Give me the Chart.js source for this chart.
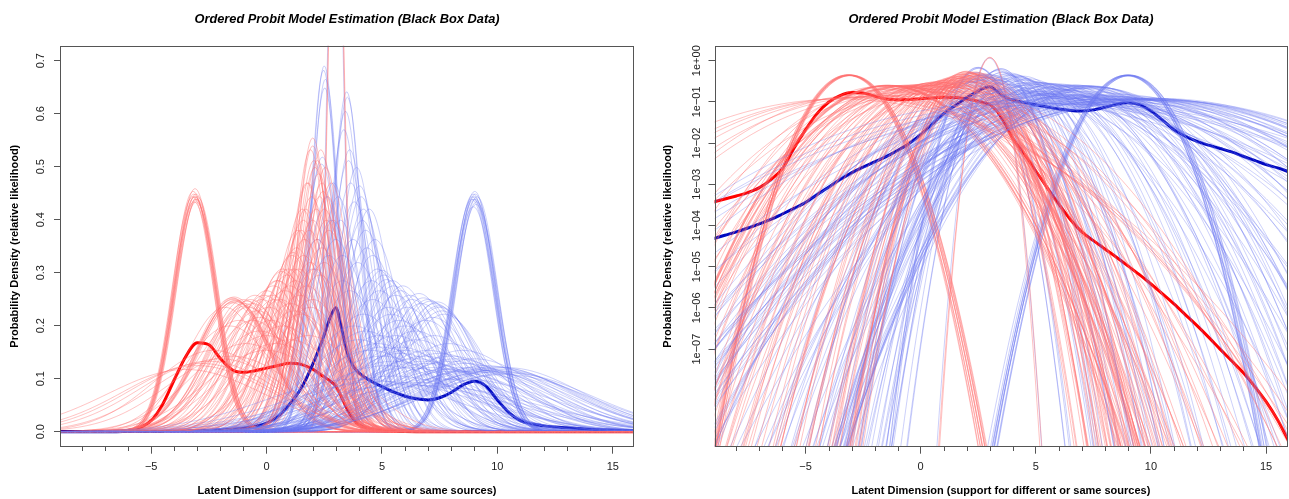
<!DOCTYPE html>
<html>
<head>
<meta charset="utf-8">
<script src="https://cdn.jsdelivr.net/npm/chart.js@4.4.0/dist/chart.umd.min.js"></script>
<style>
  html, body { margin: 0; padding: 0; background: #fff; }
  #wrap { position: relative; width: 1289px; height: 499px; overflow: hidden; }
  .panel { position: absolute; top: 0; height: 499px; }
</style>
</head>
<body>
<div id="wrap">
  <div class="panel" style="left:0;width:645px"><canvas id="linChart" width="645" height="499"></canvas></div>
  <div class="panel" style="left:645px;width:644px"><canvas id="logChart" width="644" height="499"></canvas></div>
</div>
<script>
// ---- text ----
const TITLE = 'Ordered Probit Model Estimation (Black Box Data)';
const X_LABEL = 'Latent Dimension (support for different or same sources)';
const Y_LABEL = 'Probability Density (relative likelihood)';

// ---- axes ----
const xRange = [-8.95, 15.92];
const xTickValues = [-5, 0, 5, 10, 15];
const linearRange = [-0.0283, 0.7283];
const linearTicks = [0, 0.1, 0.2, 0.3, 0.4, 0.5, 0.6, 0.7];
const logRange = [4.28e-10, 2.31];
const logTicks = [1e-7, 1e-6, 1e-5, 1e-4, 1e-3, 1e-2, 1e-1, 1];

// ---- thin lines: one normal density per draw (mean, sd) ----
const redMeans = [
  -3.5, -3.0, -2.8, -2.5, -2.0, -1.5,
  -0.8, -0.5, -0.2, 0.0, 0.3, 0.5, 0.7, 0.9, 0.2, -0.3, 0.6, 1.0, -0.6, 1.2, 0.4, 1.5, 0.0, 1.8,
  -1.8, -1.2, -0.7, -0.4, -0.1, 0.1, 0.25, 0.45, 0.65, 0.8, 0.95, 1.05, 1.15, 1.25, 1.35, 1.45,
  1.55, 1.65, 1.75, 1.85, 1.95, 2.05, 2.15, 2.25, 2.35, 2.45, 2.55, 2.65, 2.7, 2.4, 2.1, 1.75,
  1.2, 0.7, 0.0, -0.9, -2.3, 1.0, 2.0, 2.3, -1.6, 2.8, 2.0, 1.6, 2.9, -0.6, 0.35, 2.5, 1.9, -0.3,
  1.3, 1.5, 1.7, 1.8, 1.9, 2.0, 2.1, 2.2, 2.3, 1.6, 2.4, 2.0, 1.4, 2.5, 1.1, 2.2, 2.6, 1.9,
  3.0, 3.02,
  -1.45, -1.38, -1.50, -1.30, -1.42, -1.35, -1.48, -1.40, -0.95, -0.85, -0.90, -1.00,
  -3.12, -3.08, -3.15, -3.05, -3.10, -3.18, -3.02, -3.10, -3.14, -3.06, -3.20, -3.00
];
const redSds = [
  3.4, 3.2, 3.1, 3.0, 2.9, 2.8,
  1.7, 1.55, 1.6, 1.5, 1.45, 1.4, 1.3, 1.35, 1.9, 2.1, 1.6, 1.45, 1.9, 1.3, 2.4, 1.8, 2.6, 2.2,
  1.7, 1.9, 1.6, 1.75, 1.55, 1.7, 1.55, 1.4, 1.32, 1.5, 1.3, 1.65, 1.18, 1.4, 1.05, 1.55,
  0.95, 1.1, 0.85, 1.05, 0.9, 0.78, 0.95, 0.82, 0.75, 0.88, 0.8, 0.9, 1.05, 1.15, 1.3, 1.45,
  1.75, 2.0, 2.2, 2.4, 2.6, 2.3, 1.6, 1.35, 2.0, 0.85, 0.74, 1.0, 1.0, 1.65, 1.6, 1.25, 1.7, 1.85,
  1.15, 1.05, 0.95, 0.85, 0.75, 0.72, 0.8, 0.78, 0.9, 1.2, 0.85, 1.0, 1.3, 0.95, 1.2, 1.1, 1.0, 1.25,
  0.33, 0.34,
  1.60, 1.62, 1.58, 1.63, 1.59, 1.61, 1.64, 1.57, 1.65, 1.62, 1.68, 1.60,
  0.90, 0.91, 0.89, 0.92, 0.90, 0.88, 0.91, 0.87, 0.92, 0.89, 0.90, 0.90
];
const blueMeans = [
  8.5, 9.0, 9.3, 9.8, 10.2, 10.5, 9.5, 10.3, 8.0, 10.0, 6.0, 5.0, 4.0, 6.5, 5.5, 7.5,
  4.0, 4.5, 5.0, 5.5, 6.0, 6.5, 7.0, 7.5, 8.0, 4.8, 5.2, 5.8, 6.2, 6.8, 7.2, 3.8, 4.3, 8.5, 9.0, 5.6,
  3.0, 3.3, 2.8, 4.6, 5.4, 6.0, 6.5, 5.0, 7.0, 8.0,
  2.6, 2.7, 2.9, 3.1, 3.2, 3.35, 3.65, 3.75, 3.95, 4.15, 4.35, 4.45, 4.55, 4.7, 4.9, 5.1, 5.3,
  5.45, 5.6, 5.75, 5.9, 6.1, 6.3, 6.45, 6.7, 6.9, 7.1, 7.25, 7.45, 7.7, 7.9, 8.2, 8.6, 8.8, 9.1,
  9.6, 9.9, 10.1, 10.4, 7.8, 6.8, 5.8, 4.9, 4.2, 3.6, 3.3, 2.2, 2.0, 8.4, 7.0,
  6.6, 7.0, 7.3, 7.4, 7.5, 6.8, 7.6, 7.2,
  4.8, 5.0, 5.2, 4.6, 5.5, 5.8, 6.2,
  3.90, 4.03, 4.10, 4.20, 3.80, 4.30,
  3.47, 3.50, 3.42, 3.60, 3.55,
  2.50, 2.47, 2.55, 2.52, 2.42, 2.38,
  2.98,
  9.00, 9.05, 8.95, 9.10, 9.02, 8.92, 9.08, 8.98, 9.04, 8.96, 9.12, 8.90
];
const blueSds = [
  3.3, 3.4, 3.45, 3.45, 3.5, 3.6, 3.2, 3.7, 3.5, 3.3, 4.5, 4.2, 4.0, 4.3, 3.8, 4.0,
  2.3, 2.6, 2.8, 3.0, 2.6, 2.9, 3.1, 2.7, 3.0, 2.4, 3.2, 2.5, 3.3, 2.8, 3.3, 2.0, 2.1, 2.6, 2.9, 2.2,
  1.1, 1.2, 1.0, 1.6, 1.8, 2.0, 2.3, 2.5, 2.6, 2.8,
  0.9, 1.2, 0.85, 0.9, 1.0, 0.7, 0.85, 1.1, 1.25, 1.0, 1.15, 0.95, 1.4, 1.1, 1.5, 1.35, 1.7,
  1.4, 1.55, 1.9, 1.45, 1.7, 1.6, 2.1, 1.65, 1.9, 1.62, 2.2, 1.68, 1.8, 2.4, 2.9, 3.1, 3.5, 3.3,
  3.55, 3.25, 3.4, 3.3, 3.4, 3.0, 2.7, 2.2, 1.8, 1.5, 1.4, 1.1, 1.3, 4.0, 4.6,
  1.53, 1.60, 1.65, 1.63, 1.70, 1.58, 1.75, 1.85,
  1.30, 1.31, 1.39, 1.20, 1.45, 1.50, 1.55,
  0.80, 0.86, 0.90, 0.95, 0.92, 1.05,
  0.622, 0.632, 0.66, 0.75, 0.78,
  0.578, 0.585, 0.60, 0.615, 0.77, 0.79,
  0.345,
  0.90, 0.91, 0.89, 0.92, 0.88, 0.90, 0.93, 0.91, 0.89, 0.94, 0.90, 0.91
];

// ---- thick lines: averaged densities ----
const meanX = [
  -9, -8.5, -8, -7.5, -7, -6.5, -6, -5.5, -5, -4.5, -4, -3.5, -3, -2.5, -2, -1.5, -1, -0.5,
  0, 0.5, 1, 1.5, 2, 2.5, 2.75, 3, 3.25, 3.5, 3.75, 4, 4.5, 5, 5.5, 6, 6.5, 7, 7.5, 8, 8.5,
  9, 9.5, 10, 10.5, 11, 11.5, 12, 12.5, 13, 13.5, 14, 14.5, 15, 15.5, 16
];
const redAverage = [
  3.7e-4, 4.4e-4, 5.2e-4, 6.3e-4, 8.3e-4, 1.3e-3, 2.4e-3, 7.5e-3, 0.021, 0.052, 0.098, 0.142,
  0.168, 0.164, 0.138, 0.117, 0.112, 0.115,
  0.120, 0.125, 0.129, 0.127, 0.118, 0.103, 0.096, 0.086, 0.065, 0.042, 0.024, 0.013,
  5.5e-3, 2.1e-3, 8.2e-4, 3.3e-4, 1.4e-4, 7.0e-5, 4.3e-5, 2.7e-5, 1.7e-5,
  1.05e-5, 6.4e-6, 3.8e-6, 2.2e-6, 1.25e-6, 6.8e-7, 3.7e-7, 1.95e-7, 1.0e-7, 5.2e-8,
  2.7e-8, 1.25e-8, 5.3e-9, 1.9e-9, 5.5e-10
];
const blueAverage = [
  4.8e-5, 5.8e-5, 7.0e-5, 8.7e-5, 1.1e-4, 1.4e-4, 1.9e-4, 2.6e-4, 3.6e-4, 5.6e-4, 8.5e-4, 1.3e-3,
  1.9e-3, 2.6e-3, 3.5e-3, 4.7e-3, 6.6e-3, 9.8e-3,
  0.016, 0.029, 0.052, 0.082, 0.127, 0.183, 0.215, 0.234, 0.195, 0.148, 0.124, 0.111,
  0.096, 0.085, 0.075, 0.067, 0.062, 0.060, 0.064, 0.074, 0.088,
  0.095, 0.086, 0.060, 0.036, 0.021, 0.0145, 0.011, 0.0089, 0.0074, 0.0061,
  0.0048, 0.0038, 0.0030, 0.0025, 0.0020
];

// ---- styles ----
const RED_THIN = 'rgba(255,110,110,0.42)';
const BLUE_THIN = 'rgba(110,120,240,0.35)';
const RED_THICK = '#ff0000';
const BLUE_THICK = '#0008c0';
const FONT = '"Liberation Sans", Arial, Helvetica, sans-serif';

// sampling grid for the density lines
const sampleX = [];
for (let i = 0; i <= 500; i++) sampleX.push(-9 + i * 0.05);

function normalDensity(x, m, s) {
  const z = (x - m) / s;
  return Math.exp(-0.5 * z * z) / (s * Math.sqrt(2 * Math.PI));
}

function densityPoints(m, s, floor) {
  return sampleX.map(x => ({ x: x, y: Math.max(normalDensity(x, m, s), floor) }));
}

function buildDatasets(floor) {
  const sets = [];
  const n = Math.max(redMeans.length, blueMeans.length);
  for (let i = 0; i < n; i++) {
    if (i < redMeans.length) {
      sets.push({ data: densityPoints(redMeans[i], redSds[i], floor), borderColor: RED_THIN,
                  borderWidth: 1, pointRadius: 0, tension: 0, parsing: false, normalized: true });
    }
    if (i < blueMeans.length) {
      sets.push({ data: densityPoints(blueMeans[i], blueSds[i], floor), borderColor: BLUE_THIN,
                  borderWidth: 1, pointRadius: 0, tension: 0, parsing: false, normalized: true });
    }
  }
  sets.push({ data: meanX.map((x, i) => ({ x: x, y: blueAverage[i] })), borderColor: BLUE_THICK,
              borderWidth: 3, pointRadius: 0, cubicInterpolationMode: 'monotone', parsing: false });
  sets.push({ data: meanX.map((x, i) => ({ x: x, y: redAverage[i] })), borderColor: RED_THICK,
              borderWidth: 3, pointRadius: 0, cubicInterpolationMode: 'monotone', parsing: false });
  return sets;
}

// plot frame, minor x ticks and titles
const framePlugin = {
  id: 'frame',
  afterDraw(chart, args, opts) {
    const { ctx, chartArea: a, scales } = chart;
    ctx.save();
    ctx.strokeStyle = '#555';
    ctx.lineWidth = 1;
    ctx.strokeRect(Math.round(a.left) + 0.5, Math.round(a.top) + 0.5,
                   Math.round(a.right - a.left) - 1, Math.round(a.bottom - a.top) - 1);
    const xs = scales.x;
    ctx.beginPath();
    for (let v = Math.ceil(xs.min); v <= xs.max; v++) {
      if (v % 5 === 0) continue;
      const px = Math.round(xs.getPixelForValue(v)) + 0.5;
      ctx.moveTo(px, Math.round(a.bottom));
      ctx.lineTo(px, Math.round(a.bottom) + 4);
    }
    ctx.stroke();

    ctx.fillStyle = '#000';
    ctx.textAlign = 'center';
    ctx.textBaseline = 'middle';
    const cx = (a.left + a.right) / 2;
    ctx.font = 'italic bold 12.8px ' + FONT;
    ctx.fillText(TITLE, cx, 19);
    ctx.font = 'bold 11px ' + FONT;
    ctx.fillText(X_LABEL, cx, 491);
    ctx.translate(opts.yLabelX, (a.top + a.bottom) / 2);
    ctx.rotate(-Math.PI / 2);
    ctx.fillText(Y_LABEL, 0, 0);
    ctx.restore();
  }
};

function fmtMinus(s) { return String(s).replace('-', '\u2212'); }

function logLabel(v) {
  const e = Math.round(Math.log10(v));
  const sign = e < 0 ? '\u2212' : '+';
  return '1e' + sign + String(Math.abs(e)).padStart(2, '0');
}

function makeChart(id, isLog) {
  const yScale = isLog ? {
    type: 'logarithmic', min: logRange[0], max: logRange[1],
    afterBuildTicks: s => { s.ticks = logTicks.map(v => ({ value: v })); },
    ticks: { autoSkip: false, minRotation: 90, maxRotation: 90, crossAlign: 'center', padding: -4,
             color: '#222', font: { family: FONT, size: 11 }, callback: v => logLabel(v) },
    grid: { display: true, drawOnChartArea: false, drawTicks: true, tickLength: 6, color: '#555' },
    border: { display: false },
    afterFit: s => { s.width = 69.5; }
  } : {
    type: 'linear', min: linearRange[0], max: linearRange[1],
    afterBuildTicks: s => { s.ticks = linearTicks.map(v => ({ value: v })); },
    ticks: { autoSkip: false, minRotation: 90, maxRotation: 90, crossAlign: 'center', padding: 5,
             color: '#222', font: { family: FONT, size: 11 }, callback: v => Number(v).toFixed(1) },
    grid: { display: true, drawOnChartArea: false, drawTicks: true, tickLength: 6, color: '#555' },
    border: { display: false },
    afterFit: s => { s.width = 60; }
  };

  return new Chart(document.getElementById(id), {
    type: 'line',
    data: { datasets: buildDatasets(isLog ? 1e-40 : 0) },
    options: {
      responsive: false,
      devicePixelRatio: 1,
      animation: false,
      events: [],
      layout: { padding: { left: 0, top: 45.7, right: isLog ? 1.7 : 11, bottom: 0 } },
      plugins: { legend: { display: false }, tooltip: { enabled: false },
                 frame: { yLabelX: isLog ? 23 : 15 } },
      scales: {
        x: {
          type: 'linear', min: xRange[0], max: xRange[1],
          afterBuildTicks: s => { s.ticks = xTickValues.map(v => ({ value: v })); },
          ticks: { autoSkip: false, minRotation: 0, maxRotation: 0, padding: 7,
                   color: '#222', font: { family: FONT, size: 11 }, callback: v => fmtMinus(v) },
          grid: { display: true, drawOnChartArea: false, drawTicks: true, tickLength: 7, color: '#555' },
          border: { display: false },
          afterFit: s => { s.height = 52.3; }
        },
        y: yScale
      }
    },
    plugins: [framePlugin]
  });
}

makeChart('linChart', false);
makeChart('logChart', true);
</script>
</body>
</html>
